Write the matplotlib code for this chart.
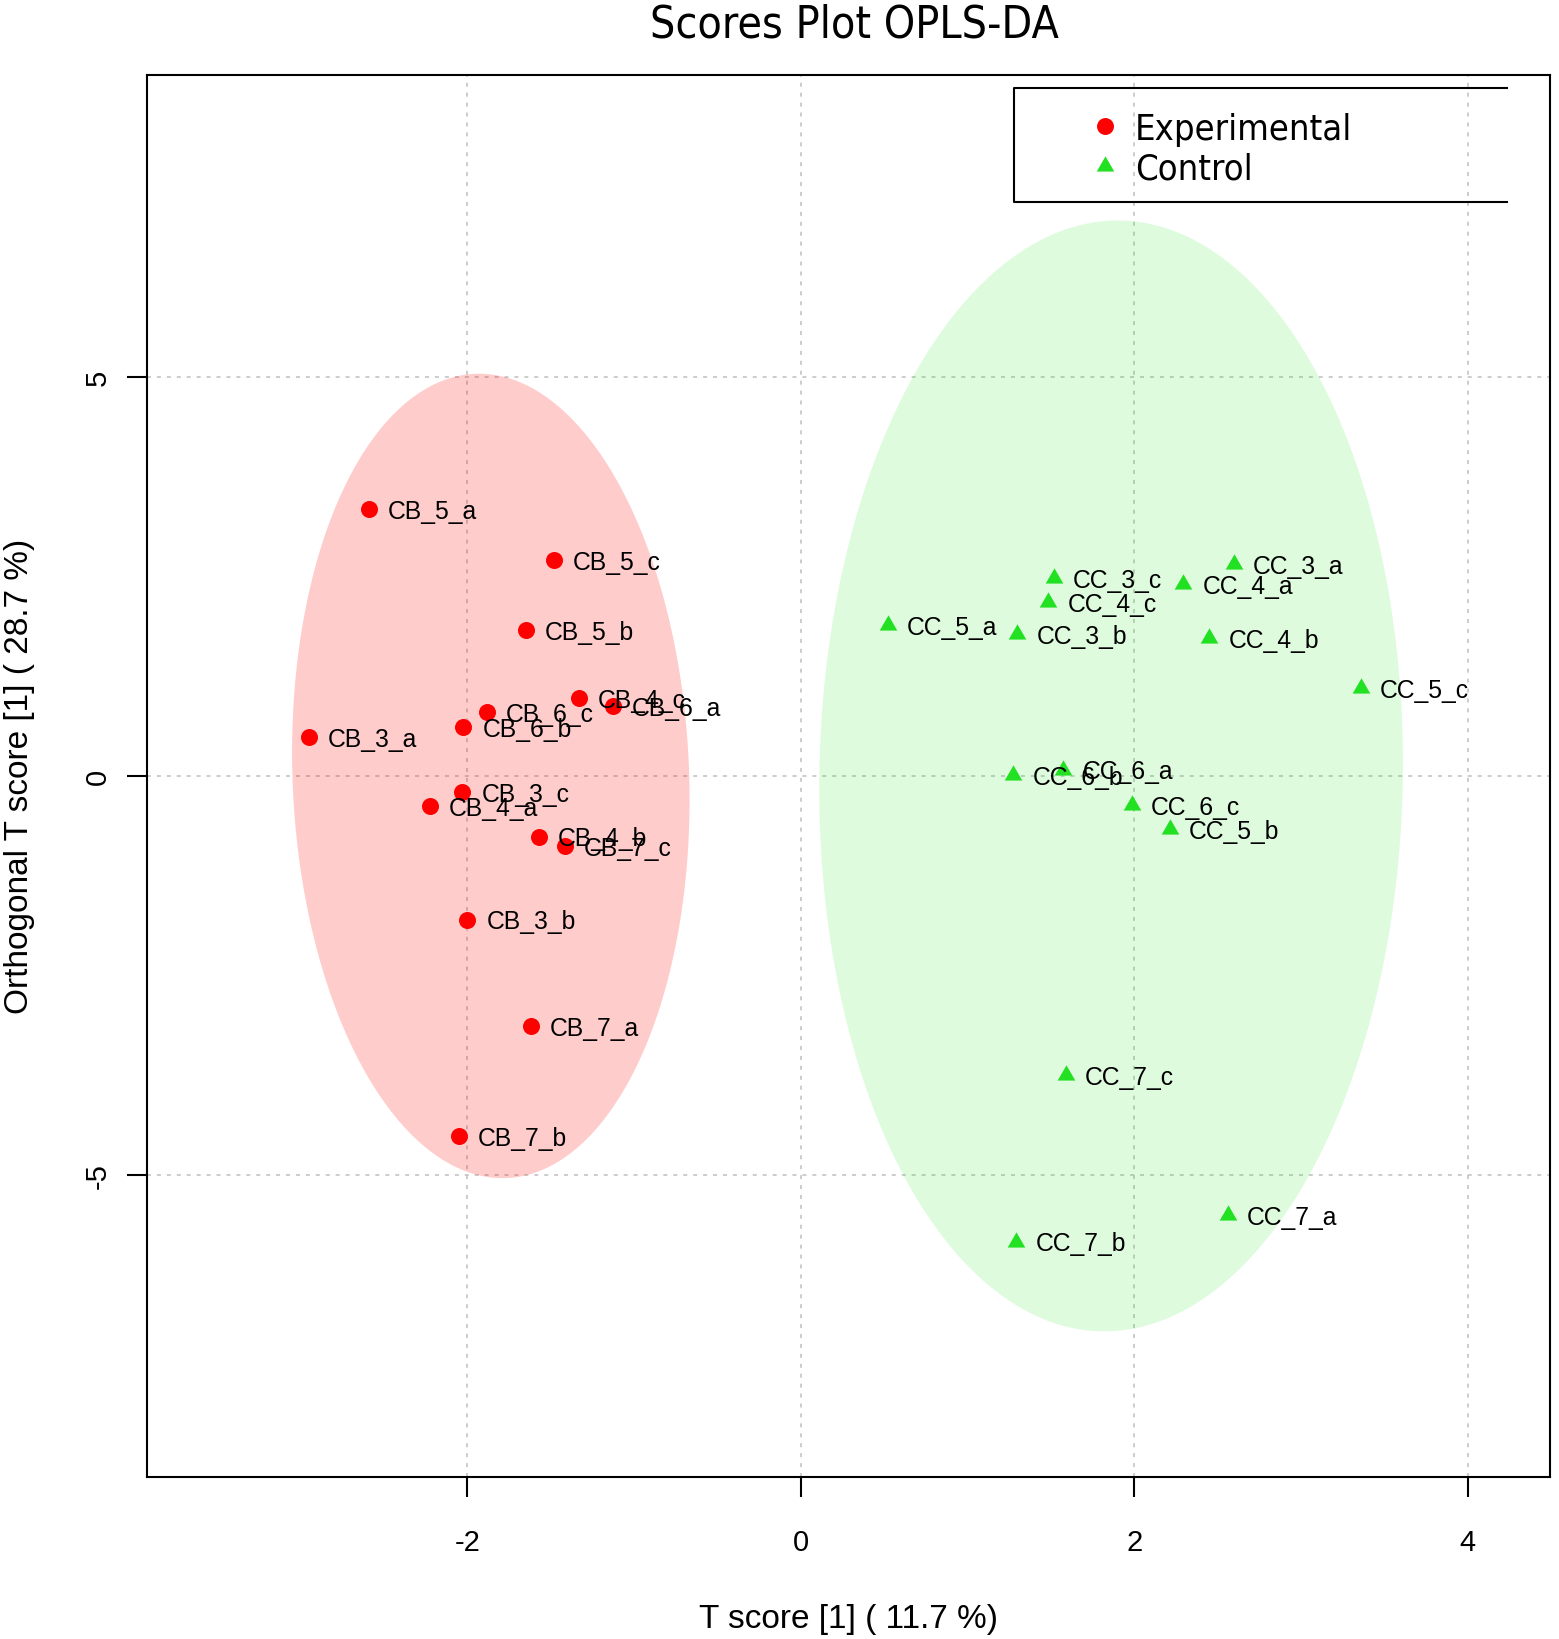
import numpy as np
import matplotlib
matplotlib.use("Agg")
import matplotlib.pyplot as plt
from matplotlib.lines import Line2D
from matplotlib.path import Path

# ---- scores ----
exp_names = ["CB_5_a", "CB_5_c", "CB_5_b", "CB_4_c", "CB_6_a", "CB_6_c", "CB_6_b",
             "CB_3_a", "CB_3_c", "CB_4_a", "CB_4_b", "CB_7_c", "CB_3_b", "CB_7_a", "CB_7_b"]
exp_t = [-2.59, -1.48, -1.65, -1.33, -1.13, -1.885, -2.025,
         -2.95, -2.03, -2.225, -1.574, -1.417, -2.00, -1.618, -2.05]
exp_to = [3.34, 2.71, 1.83, 0.98, 0.88, 0.80, 0.61,
          0.485, -0.20, -0.38, -0.76, -0.88, -1.80, -3.13, -4.51]

ctl_names = ["CC_3_a", "CC_3_c", "CC_4_a", "CC_4_c", "CC_5_a", "CC_3_b", "CC_4_b",
             "CC_5_c", "CC_6_b", "CC_6_a", "CC_6_c", "CC_5_b", "CC_7_c", "CC_7_a", "CC_7_b"]
ctl_t = [2.597, 1.517, 2.293, 1.483, 0.52, 1.297, 2.449,
         3.36, 1.273, 1.573, 1.983, 2.213, 1.587, 2.559, 1.292]
ctl_to = [2.66, 2.48, 2.41, 2.18, 1.89, 1.78, 1.73,
          1.10, 0.01, 0.08, -0.37, -0.67, -3.745, -5.506, -5.834]

# confidence ellipses: centre, half-width, half-height, x shift of the apex
ell_center = [-1.86, 1.86]
ell_half_t = [1.19, 1.75]
ell_half_to = [5.04, 6.96]
ell_shift = [-0.07, 0.04]

x_ticks = [-2, 0, 2, 4]
y_ticks = [-5, 0, 5]
group_labels = ["Experimental", "Control"]

RED = "#FF0000"
GREEN = "#22E022"
tri = Path([(-1, -0.577), (1, -0.577), (0, 1.155), (-1, -0.577)],
           [Path.MOVETO, Path.LINETO, Path.LINETO, Path.CLOSEPOLY])

LAB_FONT = ["Liberation Sans", "DejaVu Sans"]
TITLE_FONT = dict(family="DejaVu Sans", stretch="condensed")

fig = plt.figure(figsize=(15.59, 16.4), dpi=100)
ax = fig.add_axes([0.0943, 0.0988, 0.8999, 0.8551])
ax.set_xlim(-3.922, 4.492)
ax.set_ylim(-8.784, 8.788)

# grid (R-style dotted)
for xv in x_ticks:
    ax.axvline(xv, color="#BEBEBE", lw=1.1, ls=(0, (2.6, 3.9)), zorder=0.5)
for yv in y_ticks:
    ax.axhline(yv, color="#BEBEBE", lw=1.1, ls=(0, (2.6, 3.9)), zorder=0.5)

# ellipses
tt = np.linspace(0, 2 * np.pi, 300)
fills = [(1.0, 0.0, 0.0, 0.2), (0.0, 0.9, 0.0, 0.13)]
for cx, rx, ry, sh, fc in zip(ell_center, ell_half_t, ell_half_to, ell_shift, fills):
    ex = cx + rx * np.cos(tt) + sh * np.sin(tt)
    ey = ry * np.sin(tt)
    ax.fill(ex, ey, color=fc, lw=0, zorder=1)

ax.scatter(exp_t, exp_to, s=150, marker="o", color=RED, lw=0, zorder=3)
ax.scatter(ctl_t, ctl_to, s=215, marker=tri, color=GREEN, lw=0, zorder=3)

for names, xs, ys in [(exp_names, exp_t, exp_to), (ctl_names, ctl_t, ctl_to)]:
    for n, xv, yv in zip(names, xs, ys):
        ax.annotate(n, (xv, yv), xytext=(13.7, -6.4), textcoords="offset points",
                    va="baseline", ha="left", fontsize=17.8, family=LAB_FONT, zorder=4)

# axes styling
for sp in ax.spines.values():
    sp.set_linewidth(1.5)
ax.set_xticks(x_ticks)
ax.set_yticks(y_ticks)
ax.set_xticklabels([str(v) for v in x_ticks], family=LAB_FONT, fontsize=21)
ax.set_yticklabels([str(v) for v in y_ticks], family=LAB_FONT, fontsize=21,
                   rotation=90, va="center")
ax.tick_params(axis="x", direction="out", length=14.4, width=1.5, pad=22)
ax.tick_params(axis="y", direction="out", length=14.4, width=1.5, pad=11)

fig.text(0.5443, 12 / 1640, "T score [1] ( 11.7 %)", ha="center", va="baseline",
         fontsize=24, family=LAB_FONT)
fig.text(4 / 1559, 0.5263, "Orthogonal T score [1] ( 28.7 %)", ha="left", va="center",
         rotation=90, fontsize=24, family=LAB_FONT)
fig.text(0.5478, 1 - 37 / 1640, "Scores Plot OPLS-DA", ha="center", va="baseline",
         fontsize=32, **TITLE_FONT)

# legend (box open on the right, like the original)
handles = [Line2D([], [], ls="", marker="o", ms=12.2, color=RED, mec="none"),
           Line2D([], [], ls="", marker=tri, ms=14.6, color=GREEN, mec="none")]
leg = ax.legend(handles, group_labels, loc="upper left",
                bbox_to_anchor=(1069 / 1559, 1 - 95 / 1640), bbox_transform=fig.transFigure,
                frameon=False, borderpad=0, handlelength=1.0, handletextpad=0.33,
                labelspacing=0.15, prop=dict(size=26, **TITLE_FONT))
bx0, bx1 = 1014 / 1559, 1507 / 1559
by0, by1 = 1 - 203 / 1640, 1 - 89 / 1640
fig.add_artist(Line2D([bx1, bx0, bx0, bx1], [by1, by1, by0, by0],
                      transform=fig.transFigure, color="black", lw=1.5))

fig.savefig("out.png", dpi=100)
